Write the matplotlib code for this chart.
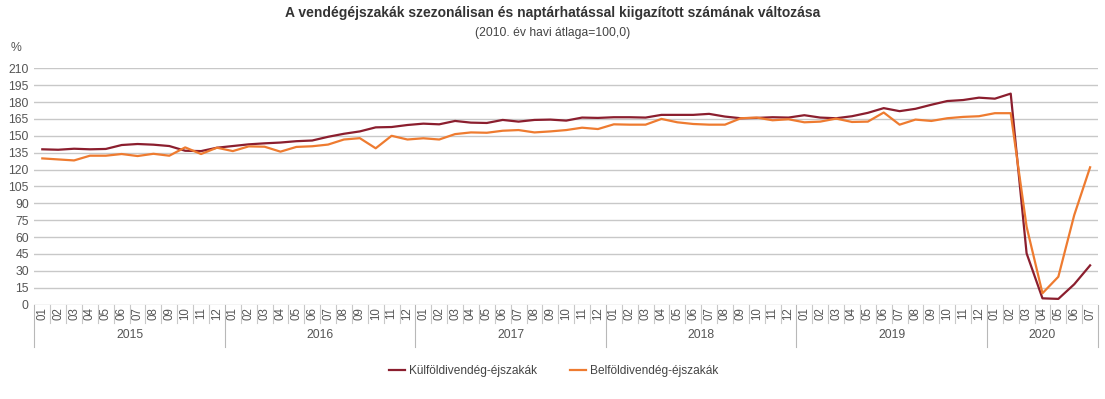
import matplotlib.pyplot as plt
from matplotlib import transforms
import numpy as np

plt.rcParams['font.family'] = ['Liberation Sans', 'DejaVu Sans']

years = ['2015', '2016', '2017', '2018', '2019', '2020']
months = ['01', '02', '03', '04', '05', '06', '07', '08', '09', '10', '11', '12']
n_last = 7  # 2020: Jan..Jul

kulfoldi = [
    138.0, 137.6, 138.5, 138.0, 138.3, 141.8, 142.7, 142.1, 140.9, 136.7, 136.4, 139.4,
    140.9, 142.4, 143.3, 144.0, 145.2, 145.8, 149.1, 151.8, 153.9, 157.5, 157.8, 159.6,
    160.8, 160.2, 163.2, 161.7, 161.4, 164.1, 162.6, 164.1, 164.4, 163.5, 166.2, 165.9,
    166.5, 166.5, 166.2, 168.6, 168.6, 168.6, 169.5, 167.1, 165.6, 165.9, 166.5, 166.2,
    168.3, 166.2, 165.6, 167.4, 170.4, 174.6, 171.9, 174.0, 177.6, 180.9, 181.8, 183.9,
    183.0, 187.5, 45.5, 5.5, 5.0, 18.0, 34.8,
]
belfoldi = [
    129.9, 129.0, 128.1, 132.3, 132.3, 133.8, 132.0, 134.0, 132.3, 139.7, 133.8, 139.4,
    136.4, 140.6, 140.3, 135.9, 140.1, 140.7, 142.2, 146.7, 147.9, 138.9, 150.0, 146.7,
    147.8, 146.7, 151.5, 153.0, 152.7, 154.5, 155.1, 153.0, 153.9, 155.1, 157.2, 156.0,
    160.2, 159.9, 159.9, 165.0, 162.0, 160.5, 159.9, 159.9, 165.6, 166.2, 163.8, 164.7,
    162.0, 162.6, 165.3, 162.3, 162.6, 170.7, 159.9, 164.4, 163.2, 165.6, 166.8, 167.4,
    170.1, 170.1, 69.2, 10.0, 24.7, 79.5, 122.0,
]
yticks = list(range(0, 211, 15))

month_labels = months * (len(years) - 1) + months[:n_last]
x = np.arange(len(month_labels))

fig = plt.figure(figsize=(11.05, 3.99), dpi=100)
ax = fig.add_axes([0.0311, 0.2368, 0.9626, 0.592])

ax.plot(x, kulfoldi, color='#8b1e2e', lw=1.6, label='Külföldivendég-éjszakák')
ax.plot(x, belfoldi, color='#ee7b30', lw=1.6, label='Belföldivendég-éjszakák')

ax.set_xlim(-0.5, len(x) - 0.5)
ax.set_ylim(0, 210)
ax.set_yticks(yticks)
ax.tick_params(axis='y', length=0, labelsize=8.8, labelcolor='#555555', pad=4)
ax.grid(axis='y', color='#c8c8c8', lw=1)
ax.set_axisbelow(True)
for s in ax.spines.values():
    s.set_visible(False)

ax.set_xticks(x)
ax.set_xticklabels(month_labels, rotation=90, fontsize=8.3, color='#555555')
ax.tick_params(axis='x', length=0, pad=2)

# category table below the plot
tr = transforms.blended_transform_factory(ax.transData, ax.transAxes)
for i in range(len(x) + 1):
    edge = i - 0.5
    if i % 12 == 0 or i == len(x):
        ax.plot([edge, edge], [0, -0.18], transform=tr, color='#b8b8b8', lw=0.8, clip_on=False)
    else:
        ax.plot([edge, edge], [0, -0.08], transform=tr, color='#c8c8c8', lw=0.8, clip_on=False)
for k, yr in enumerate(years):
    start = k * 12
    end = min(start + 12, len(x))
    ax.text((start + end - 1) / 2, -0.128, yr, transform=tr, ha='center', va='center',
            fontsize=8.8, color='#555555')

fig.text(0.0095, 0.88, '%', fontsize=8.8, color='#555555', va='center')
fig.text(0.5, 0.968, 'A vendégéjszakák szezonálisan és naptárhatással kiigazított számának változása',
         ha='center', va='center', fontsize=10, fontweight='bold', color='#333333')
fig.text(0.5, 0.918, '(2010. év havi átlaga=100,0)', ha='center', va='center',
         fontsize=8.7, color='#444444')

fig.legend(loc='center', bbox_to_anchor=(0.501, 0.07), ncol=2, frameon=False,
           fontsize=8.6, handlelength=1.35, handletextpad=0.35, columnspacing=2.7,
           labelcolor='#444444')

plt.savefig('out.png')
